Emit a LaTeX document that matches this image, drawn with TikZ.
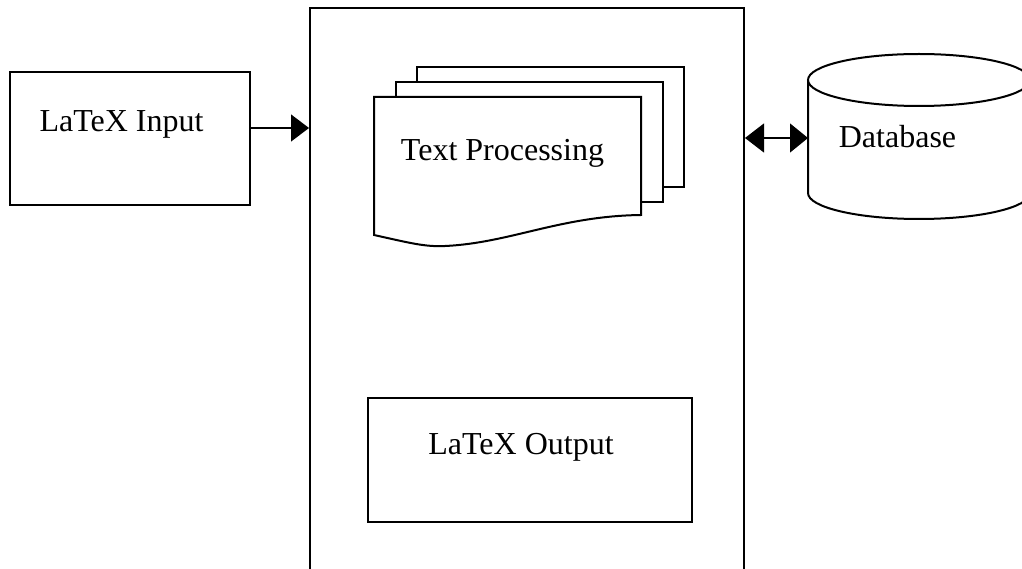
\documentclass[tikz,border=0pt]{standalone}
\usepackage{fontspec}
\setmainfont{Liberation Serif}
\usetikzlibrary{arrows.meta,calc}
\begin{document}
\begin{tikzpicture}[x=1pt,y=-1pt,line width=2pt,
  box/.style={draw,rectangle,inner sep=0pt,fill=white},
  lbl/.style={font=\fontsize{32}{38}\selectfont,inner sep=0pt,anchor=base},
  conn/.style={line width=1.2pt}]
\useasboundingbox (0,0) rectangle (1022,569);
\clip (0,0) rectangle (1022,569);
% boxes
\node[box,minimum width=240pt,minimum height=133pt] (in) at (130,138.5) {};
\node[box,minimum width=434pt,minimum height=600pt] (main) at (527,308) {};
\node[box,minimum width=324pt,minimum height=124pt] (out) at (530,460) {};
% stacked documents
\node[box,minimum width=267pt,minimum height=120pt] (doc3) at (550.5,127) {};
\node[box,minimum width=267pt,minimum height=120pt] (doc2) at (529.5,142) {};
\draw[fill=white] (374,97) -- (641,97) -- (641,215)
  .. controls (560,216) and (510,243) .. (445,246)
  .. controls (425,247) and (410,243) .. (374,235) -- cycle;
% cylinder
\draw[fill=white] (808,80) -- (808,193) arc[start angle=180,end angle=0,x radius=111,y radius=26] -- (1030,80);
\draw[fill=white] (919,80) ellipse [x radius=111,y radius=26];
\coordinate (dbw) at (808,138);
\coordinate (ya) at (0,128);
% labels
\node[lbl] (inlbl) at (121.5,132) {LaTeX Input};
\node[lbl] (tplbl) at (502.5,161) {Text Processing};
\node[lbl] (outlbl) at (521,454) {LaTeX Output};
\node[lbl] (db) at (897.5,148) {Database};
% connectors
\draw[conn,-{Triangle[length=18pt,width=27pt]}] (in.east |- ya) -- (main.west |- ya);
\draw[conn,{Triangle[length=19pt,width=29pt]}-{Triangle[length=18pt,width=29pt]}] (main.east |- dbw) -- (dbw);
\end{tikzpicture}
\end{document}
